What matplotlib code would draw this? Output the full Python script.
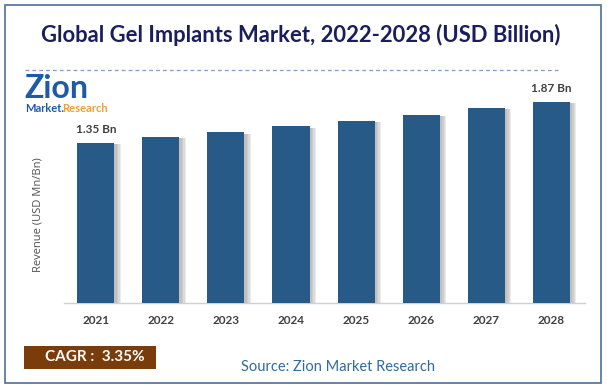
import matplotlib.pyplot as plt
from matplotlib.patches import Rectangle
from matplotlib.lines import Line2D

years = ["2021", "2022", "2023", "2024", "2025", "2026", "2027", "2028"]
revenue = [1.35, 1.40, 1.44, 1.49, 1.54, 1.59, 1.65, 1.70]
value_labels = {0: "1.35 Bn", 7: "1.87 Bn"}

W, H = 607, 388
fig = plt.figure(figsize=(W / 100, H / 100), dpi=100)
fig.patch.set_facecolor("white")


def fx(x):
    return x / W


def fy(y):
    return 1 - y / H


# outer border
fig.add_artist(Rectangle((fx(5), fy(383)), fx(596), 378 / H, transform=fig.transFigure,
                         fill=False, edgecolor="#4a6f9a", linewidth=1.2))

fig.text(fx(301), fy(35), "Global Gel Implants Market, 2022-2028 (USD Billion)",
         ha="center", va="center", fontsize=15.8, fontweight="bold",
         color="#1a1d5e", family="Lato")
fig.add_artist(Line2D([fx(25), fx(558)], [fy(70), fy(70)], transform=fig.transFigure,
                      color="#7a9cc6", linewidth=0.9, linestyle=(0, (3, 2.5))))

# logo
fig.text(fx(24), fy(89), "Zion", ha="left", va="center", fontsize=23, fontweight="bold",
         color="#1f5aa6", family="Lato")
fig.text(fx(25), fy(108), "Market.", ha="left", va="center", fontsize=8, fontweight="bold",
         color="#1f5aa6", family="Lato")
fig.text(fx(62), fy(108), "Research", ha="left", va="center", fontsize=8, fontweight="bold",
         color="#f0a030", family="Lato")

ax = fig.add_axes([fx(64), fy(303), (585 - 64) / W, (303 - 85) / H])
x = list(range(len(years)))

# soft shadow on the right side of each bar
for off in [0.10, 0.08, 0.06, 0.04]:
    ax.bar([v + off for v in x], [r - 0.01 for r in revenue], width=0.57,
           color="#707070", alpha=0.13, zorder=1, linewidth=0)
ax.bar(x, revenue, width=0.57, color="#285a87", zorder=3, linewidth=0)

for i, txt in value_labels.items():
    ax.annotate(txt, (x[i], revenue[i]), xytext=(0, 9.5), textcoords="offset points",
                ha="center", va="center", fontsize=8.5, fontweight="bold",
                color="#404040", family="Lato")

ax.set_xlim(-0.49, 7.52)
ax.set_ylim(0, 1.84)
ax.set_xticks(x)
ax.set_xticklabels(years, fontsize=8.5, fontweight="bold", color="#404040", family="Lato")
ax.tick_params(axis="x", length=0, pad=9)
ax.set_yticks([])
for side in ["top", "right", "left"]:
    ax.spines[side].set_visible(False)
ax.spines["bottom"].set_color("#d0d0d0")
ax.spines["bottom"].set_linewidth(1)
ax.set_facecolor("none")

fig.text(fx(38), fy(215), "Revenue (USD Mn/Bn)", rotation=90, ha="center", va="center",
         fontsize=8, color="#505050", family="Open Sans")

# CAGR box and source
fig.add_artist(Rectangle((fx(24), fy(369)), (156 - 24) / W, 23 / H, transform=fig.transFigure,
                         facecolor="#7b3c0c", edgecolor="none"))
fig.text(fx(95), fy(357), "CAGR :  3.35%", ha="center", va="center", fontsize=11,
         fontweight="bold", color="white", family="Lato")
fig.text(fx(338), fy(367), "Source: Zion Market Research", ha="center", va="center",
         fontsize=10.5, color="#2e6aa3", family="Lato")

fig.savefig("out.png", dpi=100)
